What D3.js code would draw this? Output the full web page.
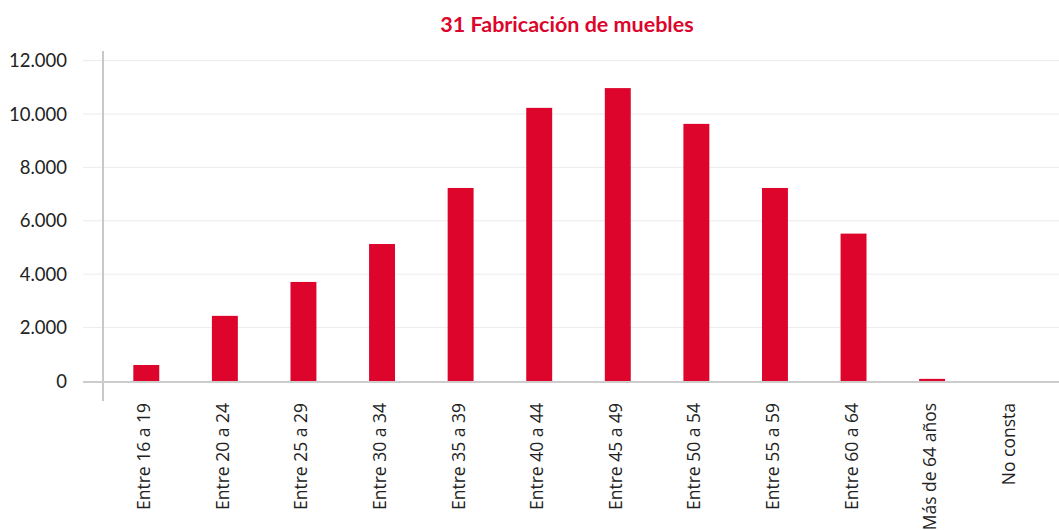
<!DOCTYPE html>
<html>
<head>
<meta charset="utf-8">
<script src="https://cdn.jsdelivr.net/npm/d3@7"></script>
<style>
  body { margin: 0; background: #fff; }
  svg { display: block; }
  .title { font-family: Lato, sans-serif; font-weight: bold; font-size: 21.5px; fill: #dc052c; }
  .y-label { font-family: Lato, sans-serif; font-size: 18.5px; fill: #222; }
  .x-label { font-family: 'Open Sans', sans-serif; font-size: 17.5px; fill: #222; }
</style>
</head>
<body>
<script>
const categories = [
  'Entre 16 a 19', 'Entre 20 a 24', 'Entre 25 a 29', 'Entre 30 a 34',
  'Entre 35 a 39', 'Entre 40 a 44', 'Entre 45 a 49', 'Entre 50 a 54',
  'Entre 55 a 59', 'Entre 60 a 64', 'Más de 64 años', 'No consta'
]
const values = [600, 2440, 3710, 5130, 7230, 10230, 10970, 9630, 7230, 5520, 80, 0]
const yTicks = [0, 2000, 4000, 6000, 8000, 10000, 12000]
const title = '31 Fabricación de muebles'

const width = 1059
const height = 530
const barColor = '#dd052b'

const svg = d3.select('body').append('svg')
  .attr('width', width)
  .attr('height', height)

const x = d3.scaleBand()
  .domain(categories)
  .range([107, 1050])
  .paddingInner(0.67)
  .paddingOuter(0.335)

const y = d3.scaleLinear()
  .domain([0, 12000])
  .range([381, 60.6])

const fmt = d => d3.format(',')(d).replace(/,/g, '.')

// Gridlines
svg.append('g')
  .selectAll('line')
  .data(yTicks.slice(1))
  .join('line')
  .attr('x1', 83)
  .attr('x2', width)
  .attr('y1', d => y(d))
  .attr('y2', d => y(d))
  .attr('stroke', '#ececec')
  .attr('stroke-width', 1)

// Y tick labels
svg.append('g')
  .selectAll('text')
  .data(yTicks)
  .join('text')
  .attr('class', 'y-label')
  .attr('x', 67)
  .attr('y', d => y(d))
  .attr('dy', '0.36em')
  .attr('text-anchor', 'end')
  .text(fmt)

// Bars
svg.append('g')
  .selectAll('rect')
  .data(values)
  .join('rect')
  .attr('x', (d, i) => x(categories[i]))
  .attr('width', x.bandwidth())
  .attr('y', d => y(d))
  .attr('height', d => y(0) - y(d))
  .attr('fill', barColor)

// Axis lines
svg.append('line')
  .attr('x1', 103).attr('x2', 103)
  .attr('y1', 51).attr('y2', 401)
  .attr('stroke', '#c8c8c8')
  .attr('stroke-width', 2)

svg.append('line')
  .attr('x1', 83).attr('x2', width)
  .attr('y1', y(0) + 1).attr('y2', y(0) + 1)
  .attr('stroke', '#cccccc')
  .attr('stroke-width', 2)

// X labels, rotated
svg.append('g')
  .selectAll('text')
  .data(categories)
  .join('text')
  .attr('class', 'x-label')
  .attr('transform', d => `translate(${x(d) + x.bandwidth() / 2 + 4}, 403) rotate(-90)`)
  .attr('text-anchor', 'end')
  .text(d => d)

// Title
svg.append('text')
  .attr('class', 'title')
  .attr('x', 567)
  .attr('y', 32)
  .attr('text-anchor', 'middle')
  .text(title)
</script>
</body>
</html>
